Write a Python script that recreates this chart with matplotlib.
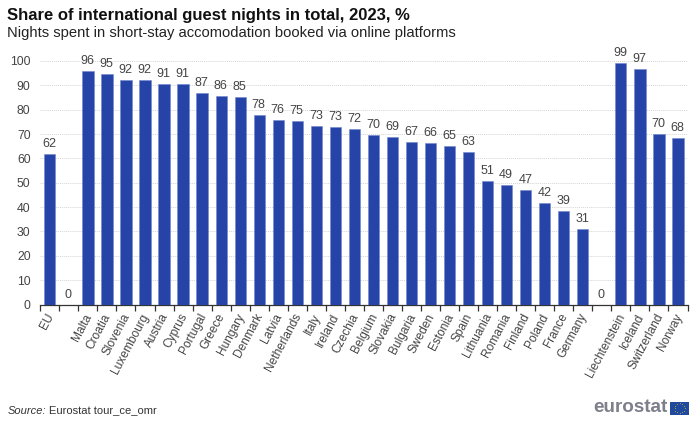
import numpy as np
import matplotlib
matplotlib.use("Agg")
import matplotlib.pyplot as plt

plt.rcParams['font.family'] = ['Liberation Sans', 'DejaVu Sans']

countries = ["EU", "", "Malta", "Croatia", "Slovenia", "Luxembourg", "Austria", "Cyprus",
             "Portugal", "Greece", "Hungary", "Denmark", "Latvia", "Netherlands", "Italy",
             "Ireland", "Czechia", "Belgium", "Slovakia", "Bulgaria", "Sweden", "Estonia",
             "Spain", "Lithuania", "Romania", "Finland", "Poland", "France", "Germany", "",
             "Liechtenstein", "Iceland", "Switzerland", "Norway"]
values = [62.0, 0, 95.7, 94.6, 92.3, 92.3, 90.7, 90.6,
          86.7, 85.8, 85.2, 78.0, 75.6, 75.2, 73.4,
          72.8, 72.2, 69.7, 68.7, 66.7, 66.2, 65.2,
          62.7, 50.7, 49.0, 47.2, 41.5, 38.6, 31.0, 0,
          99.2, 96.6, 70.2, 68.4]
yticks = list(range(0, 101, 10))

W, H = 700, 421
fig = plt.figure(figsize=(W / 100, H / 100), dpi=100, facecolor="white")
left, right, top, bottom = 40.3, 687.5, 61, 304.5
ax = fig.add_axes([left / W, 1 - bottom / H, (right - left) / W, (bottom - top) / H])

x = np.arange(len(values))
ax.bar(x, values, width=0.59, color="#2644A7", edgecolor="#6f86cf", linewidth=0.4, zorder=3)
ax.set_xlim(-0.5, len(values) - 0.5)
ax.set_ylim(0, 100)

ax.set_yticks(yticks)
ax.tick_params(axis="y", length=0, labelsize=8.8, labelcolor="#444444", pad=7)
ax.yaxis.grid(True, color="#d4d4d4", linestyle=(0, (1, 1)), linewidth=0.7, zorder=0)
ax.set_axisbelow(True)

ax.set_xticks(np.arange(len(values) + 1) - 0.5)
ax.set_xticklabels([])
ax.tick_params(axis="x", length=4, width=0.9, color="#333333")
for s in ("top", "right", "left"):
    ax.spines[s].set_visible(False)
ax.spines["bottom"].set_color("#333333")
ax.spines["bottom"].set_linewidth(0.9)

for xi, v, name in zip(x, values, countries):
    ax.annotate(f"{v:.0f}", (xi, v), xytext=(-0.5, 4), textcoords="offset pixels",
                ha="center", va="bottom", fontsize=9, color="#444444", zorder=4)
    if name:
        ax.annotate(name, (xi, 0), xytext=(-4, -7), textcoords="offset pixels",
                    xycoords=("data", "axes fraction"), rotation=62, rotation_mode="anchor",
                    ha="right", va="top", fontsize=8.6, color="#444444", annotation_clip=False)

fig.text(7 / W, 1 - 15.5 / H, "Share of international guest nights in total, 2023, %",
         fontsize=12, fontweight="bold", color="#111111", va="center", ha="left")
fig.text(7 / W, 1 - 33.5 / H, "Nights spent in short-stay accomodation booked via online platforms",
         fontsize=10.6, color="#222222", va="center", ha="left")
fig.text(8 / W, 1 - 410.5 / H, "Source:", fontsize=8, style="italic", color="#333333", va="center", ha="left")
fig.text(49 / W, 1 - 410.5 / H, "Eurostat tour_ce_omr", fontsize=8, color="#333333", va="center", ha="left")

fig.text(668 / W, 1 - 408 / H, "eurostat", fontsize=13.6, fontweight="bold", color="#7d7f8b",
         va="center", ha="right")
flag = fig.add_axes([670 / W, 1 - 414.5 / H, 19 / W, 12.5 / H])
flag.set_facecolor("#1F4A9E")
flag.set_xticks([]); flag.set_yticks([])
for s in flag.spines.values():
    s.set_visible(False)
ang = np.arange(12) * np.pi / 6
flag.scatter(np.cos(ang), np.sin(ang), s=0.6, color="#b8a53a", linewidths=0)
flag.set_xlim(-1.9, 1.9); flag.set_ylim(-1.3, 1.3)

fig.savefig("out.png", dpi=100)
